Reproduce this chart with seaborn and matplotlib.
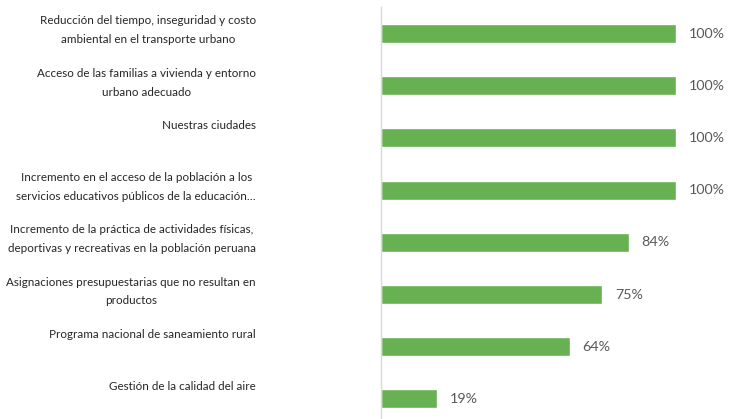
import matplotlib
matplotlib.use('Agg')
import matplotlib.pyplot as plt
import seaborn as sns
import pandas as pd
from matplotlib.transforms import offset_copy

categories = [
    "Reducción del tiempo, inseguridad y costo\nambiental en el transporte urbano",
    "Acceso de las familias a vivienda y entorno\nurbano adecuado",
    "Nuestras ciudades",
    "Incremento en el acceso de la población a los\nservicios educativos públicos de la educación…",
    "Incremento de la práctica de actividades físicas,\ndeportivas y recreativas en la población peruana",
    "Asignaciones presupuestarias que no resultan en\nproductos",
    "Programa nacional de saneamiento rural",
    "Gestión de la calidad del aire",
]
values = [100, 100, 100, 100, 84, 75, 64, 19]
value_labels = [f"{v}%" for v in values]

sns.set_theme(style='white')
plt.rcParams['font.family'] = ['Lato', 'DejaVu Sans']

fig = plt.figure(figsize=(7.41, 4.19), dpi=100)
ax = fig.add_axes([381 / 741, 1 - 425 / 419, 295 / 741, 417.6 / 419])
df = pd.DataFrame({'cat': categories, 'val': values})
sns.barplot(data=df, y='cat', x='val', orient='h', color='#67B152',
            width=0.364, saturation=1, ax=ax)
ax.set_xlim(0, 100)
ax.set_ylim(7.5, -0.5)
for s in ['top', 'right', 'bottom']:
    ax.spines[s].set_visible(False)
ax.spines['left'].set_color('#D9D9D9')
ax.spines['left'].set_linewidth(1)
ax.set_xticks([])
ax.set_yticks([])
ax.set_xlabel('')
ax.set_ylabel('')

fs = 8.4
for i, c in enumerate(categories):
    tr = offset_copy(ax.transData, fig=fig, x=-125, y=18, units='dots')
    ax.text(0, i, c, transform=tr, ha='right', va='top', multialignment='center',
            fontsize=fs, color='#262626', linespacing=1.88, clip_on=False)

ax.bar_label(ax.containers[0], labels=value_labels, padding=9,
             color='#595959', fontsize=10.3, clip_on=False)

fig.savefig('out.png', dpi=100)
